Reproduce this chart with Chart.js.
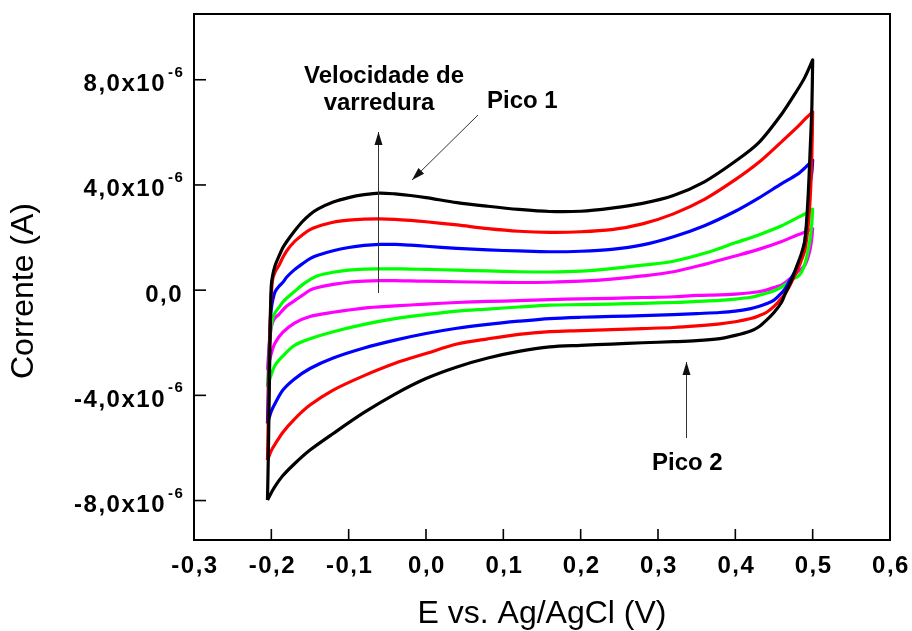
<!DOCTYPE html>
<html><head><meta charset="utf-8">
<script src="https://cdn.jsdelivr.net/npm/chart.js@4.4.1/dist/chart.umd.min.js"></script>
<style>html,body{margin:0;padding:0;background:#fff;}canvas{display:block;}</style>
</head><body>
<canvas id="c" width="912" height="631"></canvas>
<script>
// ---- axis ticks ----
const xTickValues = [-0.3, -0.2, -0.1, 0, 0.1, 0.2, 0.3, 0.4, 0.5, 0.6];
const xTickLabels = ['-0,3', '-0,2', '-0,1', '0,0', '0,1', '0,2', '0,3', '0,4', '0,5', '0,6'];
const yTickValues = [-8, -4, 0, 4, 8];            // current in 10^-6 A
const yTickLabels = ['-8,0x10', '-4,0x10', '0,0', '4,0x10', '8,0x10'];
const yTickExponents = ['-6', '-6', '', '-6', '-6'];

// ---- potentials (V vs Ag/AgCl) ----
const forwardPotential = [-0.205,-0.204,-0.203,-0.202,-0.201,-0.2,-0.198,-0.195,-0.19,-0.185,-0.18,-0.17,-0.16,-0.15,-0.14,-0.12,-0.1,-0.08,-0.06,-0.04,-0.02,0,0.04,0.08,0.12,0.16,0.2,0.24,0.28,0.32,0.36,0.4,0.43,0.46,0.48,0.49,0.5];
const reversePotential = [0.5,0.499,0.497,0.494,0.49,0.485,0.48,0.475,0.47,0.465,0.46,0.45,0.44,0.43,0.42,0.4,0.38,0.35,0.32,0.28,0.24,0.2,0.16,0.12,0.08,0.04,0,-0.04,-0.08,-0.12,-0.15,-0.17,-0.185,-0.195,-0.2,-0.205];

// ---- currents (x10^-6 A) ----
const blackForward = [-7.98,-6.5,-4.5,-2.5,-0.8,0.2,0.6,0.95,1.3,1.62,1.85,2.25,2.6,2.88,3.08,3.35,3.52,3.63,3.69,3.66,3.6,3.52,3.33,3.19,3.07,2.99,3.0,3.12,3.3,3.6,4.12,4.9,5.6,6.7,7.6,8.1,8.75];
const blackReverse = [8.75,7.0,5.5,3.5,1.9,1.35,0.95,0.55,0.2,-0.1,-0.45,-0.85,-1.15,-1.4,-1.55,-1.72,-1.84,-1.92,-1.96,-2.0,-2.05,-2.1,-2.16,-2.33,-2.58,-2.92,-3.36,-3.95,-4.65,-5.45,-6.08,-6.6,-7.05,-7.45,-7.7,-7.98];
const redForward = [-6.46,-5.0,-3.3,-1.8,-0.6,-0.1,0.45,0.7,0.95,1.25,1.5,1.85,2.1,2.3,2.42,2.58,2.66,2.7,2.71,2.69,2.65,2.6,2.48,2.34,2.24,2.2,2.22,2.3,2.52,2.9,3.45,4.2,4.85,5.65,6.2,6.5,6.78];
const redReverse = [6.78,5.2,3.6,2.4,1.55,1.1,0.75,0.45,0.15,-0.1,-0.3,-0.62,-0.85,-0.98,-1.08,-1.2,-1.28,-1.36,-1.42,-1.46,-1.5,-1.54,-1.58,-1.68,-1.85,-2.05,-2.41,-2.78,-3.25,-3.8,-4.37,-4.9,-5.4,-5.85,-6.1,-6.46];
const blueForward = [-5.07,-3.8,-2.6,-1.6,-1.0,-0.7,-0.35,-0.05,0.15,0.3,0.5,0.78,1.0,1.2,1.33,1.5,1.62,1.7,1.74,1.74,1.71,1.67,1.59,1.53,1.49,1.46,1.48,1.55,1.72,2.03,2.45,3.0,3.5,4.05,4.4,4.65,4.94];
const blueReverse = [4.94,4.5,4.1,3.0,1.9,1.2,0.9,0.6,0.35,0.08,-0.1,-0.38,-0.52,-0.62,-0.7,-0.8,-0.85,-0.89,-0.93,-0.97,-1.0,-1.03,-1.08,-1.18,-1.3,-1.45,-1.65,-1.9,-2.2,-2.58,-2.98,-3.38,-3.8,-4.3,-4.6,-5.07];
const greenForward = [-3.68,-3.0,-2.4,-1.9,-1.55,-1.3,-1.05,-0.85,-0.65,-0.45,-0.3,-0.05,0.2,0.4,0.55,0.68,0.76,0.8,0.81,0.81,0.8,0.79,0.76,0.73,0.7,0.69,0.72,0.82,0.95,1.1,1.4,1.8,2.1,2.45,2.75,2.9,3.08];
const greenReverse = [3.08,2.6,2.0,1.5,1.0,0.65,0.5,0.44,0.33,0.22,0.12,-0.02,-0.12,-0.2,-0.27,-0.34,-0.39,-0.43,-0.47,-0.5,-0.53,-0.55,-0.57,-0.64,-0.72,-0.8,-0.93,-1.08,-1.3,-1.58,-1.85,-2.1,-2.5,-2.85,-3.2,-3.68];
const magentaForward = [-3.04,-2.6,-2.2,-1.85,-1.6,-1.4,-1.2,-1.05,-0.92,-0.75,-0.6,-0.4,-0.2,0.0,0.1,0.22,0.3,0.34,0.36,0.36,0.35,0.34,0.32,0.3,0.29,0.3,0.34,0.42,0.54,0.7,0.98,1.3,1.55,1.85,2.1,2.2,2.34];
const magentaReverse = [2.34,2.0,1.6,1.25,0.95,0.8,0.68,0.52,0.42,0.3,0.2,0.1,0.0,-0.06,-0.1,-0.15,-0.18,-0.2,-0.25,-0.28,-0.31,-0.33,-0.36,-0.4,-0.43,-0.47,-0.53,-0.6,-0.68,-0.84,-1.0,-1.25,-1.6,-2.0,-2.4,-3.04];

function loop(fwd, rev) {
  return forwardPotential.map((v, i) => ({x: v, y: fwd[i]}))
    .concat(reversePotential.map((v, i) => ({x: v, y: rev[i]})));
}

const FONT = '"Liberation Sans", Arial, sans-serif';

function arrow(ctx, x1, y1, x2, y2) {
  ctx.beginPath(); ctx.moveTo(x1, y1); ctx.lineTo(x2, y2); ctx.stroke();
  const a = Math.atan2(y2 - y1, x2 - x1), L = 13, W = 4;
  ctx.beginPath(); ctx.moveTo(x2, y2);
  ctx.lineTo(x2 - L * Math.cos(a) + W * Math.sin(a), y2 - L * Math.sin(a) - W * Math.cos(a));
  ctx.lineTo(x2 - L * Math.cos(a) - W * Math.sin(a), y2 - L * Math.sin(a) + W * Math.cos(a));
  ctx.closePath(); ctx.fill();
}

const decor = {
  id: 'decor',
  afterDraw(chart) {
    const {ctx, chartArea: a, scales: {x, y}} = chart;
    ctx.save();
    ctx.strokeStyle = '#000'; ctx.fillStyle = '#000';
    ctx.lineWidth = 2;
    ctx.strokeRect(a.left, a.top, a.right - a.left, a.bottom - a.top);
    ctx.lineWidth = 1.6;
    xTickValues.forEach(v => {
      const px = x.getPixelForValue(v);
      ctx.beginPath(); ctx.moveTo(px, a.bottom); ctx.lineTo(px, a.bottom - 11); ctx.stroke();
    });
    yTickValues.forEach(v => {
      const py = y.getPixelForValue(v);
      ctx.beginPath(); ctx.moveTo(a.left, py); ctx.lineTo(a.left + 12, py); ctx.stroke();
    });
    // tick labels
    ctx.letterSpacing = '1.5px';
    ctx.font = 'bold 24px ' + FONT;
    ctx.textAlign = 'center'; ctx.textBaseline = 'alphabetic';
    xTickValues.forEach((v, i) => {
      ctx.fillText(xTickLabels[i], x.getPixelForValue(v) + 1, a.bottom + 33);
    });
    yTickValues.forEach((v, i) => {
      const py = y.getPixelForValue(v);
      ctx.font = 'bold 24px ' + FONT;
      ctx.letterSpacing = '1.5px';
      if (yTickExponents[i]) {
        ctx.textAlign = 'right';
        ctx.fillText(yTickLabels[i], a.left - 28, py + 11.5);
        ctx.font = 'bold 15px ' + FONT;
        ctx.letterSpacing = '1.5px';
        ctx.textAlign = 'left';
        ctx.fillText(yTickExponents[i], a.left - 26, py - 3);
      } else {
        ctx.textAlign = 'right';
        ctx.fillText(yTickLabels[i], a.left - 11, py + 11.5);
      }
    });
    ctx.letterSpacing = '0px';
    // y title
    ctx.save();
    ctx.translate(33, 291); ctx.rotate(-Math.PI / 2);
    ctx.font = '32px ' + FONT; ctx.textAlign = 'center'; ctx.textBaseline = 'alphabetic';
    ctx.fillText('Corrente (A)', 0, 0);
    ctx.restore();
    // annotations
    ctx.font = 'bold 24px ' + FONT;
    ctx.textAlign = 'center';
    ctx.fillText('Velocidade de', 384, 83);
    ctx.fillText('varredura', 379, 110);
    ctx.textAlign = 'left';
    ctx.fillText('Pico 1', 487, 108);
    ctx.fillText('Pico 2', 652, 470);
    ctx.strokeStyle = '#333'; ctx.fillStyle = '#111'; ctx.lineWidth = 1;
    arrow(ctx, 378.5, 293, 378.5, 132);
    arrow(ctx, 478, 115, 412, 180);
    arrow(ctx, 686.5, 438, 686.5, 362);
    ctx.restore();
  }
};

const series = [
  {label: 'Curva 5', color: '#000000', fwd: blackForward, rev: blackReverse},
  {label: 'Curva 4', color: '#ff0000', fwd: redForward, rev: redReverse},
  {label: 'Curva 3', color: '#0000ff', fwd: blueForward, rev: blueReverse},
  {label: 'Curva 2', color: '#00ff00', fwd: greenForward, rev: greenReverse},
  {label: 'Curva 1', color: '#ff00ff', fwd: magentaForward, rev: magentaReverse}
];

new Chart(document.getElementById('c'), {
  type: 'scatter',
  data: {
    datasets: series.map(s => ({
      label: s.label,
      data: loop(s.fwd, s.rev),
      showLine: true,
      borderColor: s.color,
      backgroundColor: s.color,
      borderWidth: 3.2,
      pointRadius: 0,
      tension: 0.3,
      borderJoinStyle: 'round',
      fill: false
    }))
  },
  options: {
    responsive: false,
    animation: false,
    devicePixelRatio: 1,
    layout: {padding: {top: 14, right: 22, left: 0, bottom: 0}},
    plugins: {legend: {display: false}, tooltip: {enabled: false}},
    scales: {
      x: {
        type: 'linear', min: -0.3, max: 0.6,
        grid: {display: false, drawTicks: false},
        border: {display: false},
        ticks: {display: false},
        afterBuildTicks: s => { s.ticks = xTickValues.map(v => ({value: v})); },
        afterFit: s => { s.height = 91; },
        title: {display: true, text: 'E vs. Ag/AgCl (V)', color: '#000',
                font: {family: FONT, size: 32, lineHeight: 1.05}, padding: 0}
      },
      y: {
        type: 'linear', min: -9.5, max: 10.5,
        grid: {display: false, drawTicks: false},
        border: {display: false},
        ticks: {display: false},
        afterBuildTicks: s => { s.ticks = yTickValues.map(v => ({value: v})); },
        afterFit: s => { s.width = 194; },
        title: {display: false}
      }
    }
  },
  plugins: [decor]
});
</script>
</body></html>
